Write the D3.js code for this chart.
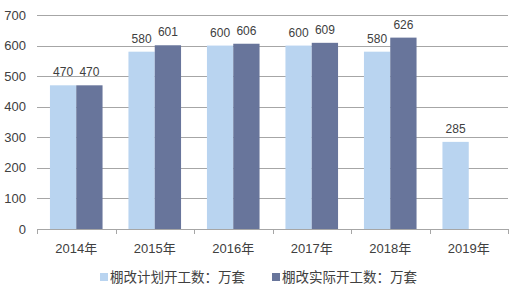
<!DOCTYPE html>
<html>
<head>
<meta charset="utf-8">
<script src="https://cdn.jsdelivr.net/npm/d3@7"></script>
<style>
  body { margin: 0; background: #fff; }
  text { font-family: "Liberation Sans", Arial, "Noto Sans CJK SC", sans-serif; fill: #404040; }
</style>
</head>
<body>
<div id="chart"></div>
<script>
var years = ["2014年", "2015年", "2016年", "2017年", "2018年", "2019年"];
var seriesNames = ["棚改计划开工数：万套", "棚改实际开工数：万套"];
var planned = [470, 580, 600, 600, 580, 285];
var actual = [470, 601, 606, 609, 626, null];
var yTicks = [0, 100, 200, 300, 400, 500, 600, 700];
var colors = ["#B9D4F0", "#68759B"];

var width = 515, height = 289;
var plotLeft = 37, plotRight = 508, plotTop = 15, plotBottom = 229;

var svg = d3.select("#chart").append("svg")
  .attr("width", width)
  .attr("height", height);

var x0 = d3.scaleBand().domain(years).range([plotLeft, plotRight]).padding(0);
var x1 = d3.scaleBand().domain([0, 1])
  .range([x0.bandwidth() * 0.165, x0.bandwidth() * 0.835]).padding(0);
var y = d3.scaleLinear().domain([0, 700]).range([plotBottom, plotTop]);

// gridlines
svg.append("g").selectAll("line")
  .data(yTicks.filter(function (d) { return d > 0; }))
  .enter().append("line")
  .attr("x1", plotLeft).attr("x2", plotRight)
  .attr("y1", function (d) { return Math.round(y(d)) + 0.5; })
  .attr("y2", function (d) { return Math.round(y(d)) + 0.5; })
  .attr("stroke", "#A6A6A6").attr("stroke-width", 1);

// y labels
svg.append("g").selectAll("text")
  .data(yTicks)
  .enter().append("text")
  .attr("x", 26).attr("y", function (d) { return y(d); })
  .attr("dy", "0.35em")
  .attr("text-anchor", "end")
  .style("font-size", "13px")
  .text(function (d) { return d; });

var rows = years.map(function (yr, i) {
  return { year: yr, vals: [planned[i], actual[i]] };
});

var groups = svg.append("g").selectAll("g")
  .data(rows)
  .enter().append("g")
  .attr("transform", function (d) { return "translate(" + x0(d.year) + ",0)"; });

var cells = groups.selectAll("g")
  .data(function (d) {
    return d.vals.map(function (v, k) { return { k: k, v: v }; })
      .filter(function (c) { return c.v != null; });
  })
  .enter().append("g");

cells.append("rect")
  .attr("x", function (d) { return x1(d.k); })
  .attr("width", x1.bandwidth())
  .attr("y", function (d) { return y(d.v); })
  .attr("height", function (d) { return plotBottom - y(d.v); })
  .attr("fill", function (d) { return colors[d.k]; });

cells.append("text")
  .attr("x", function (d) { return x1(d.k) + x1.bandwidth() / 2; })
  .attr("y", function (d) { return y(d.v) - 9; })
  .attr("text-anchor", "middle")
  .style("font-size", "12px")
  .text(function (d) { return d.v; });

// x axis
var xAxis = svg.append("g");
xAxis.append("line")
  .attr("x1", plotLeft).attr("x2", plotRight)
  .attr("y1", plotBottom + 0.5).attr("y2", plotBottom + 0.5)
  .attr("stroke", "#A6A6A6");
xAxis.selectAll("line.tick")
  .data(years.concat(["end"]))
  .enter().append("line")
  .attr("class", "tick")
  .attr("x1", function (d, i) { return Math.round(plotLeft + i * x0.step()) + 0.5; })
  .attr("x2", function (d, i) { return Math.round(plotLeft + i * x0.step()) + 0.5; })
  .attr("y1", plotBottom).attr("y2", plotBottom + 5)
  .attr("stroke", "#A6A6A6");
xAxis.selectAll("text")
  .data(years)
  .enter().append("text")
  .attr("x", function (d) { return x0(d) + x0.bandwidth() / 2; })
  .attr("y", 248)
  .attr("dy", "0.35em")
  .attr("text-anchor", "middle")
  .style("font-size", "13px")
  .text(function (d) { return d; });

// legend
var legendX = [100, 272];
var legend = svg.append("g").selectAll("g")
  .data(seriesNames)
  .enter().append("g")
  .attr("transform", function (d, i) { return "translate(" + legendX[i] + ",277)"; });
legend.append("rect")
  .attr("x", 0).attr("y", -4)
  .attr("width", 8).attr("height", 8)
  .attr("fill", function (d, i) { return colors[i]; });
legend.append("text")
  .attr("x", 10).attr("y", 0)
  .attr("dy", "0.35em")
  .style("font-size", "13.5px")
  .text(function (d) { return d; });
</script>
</body>
</html>
